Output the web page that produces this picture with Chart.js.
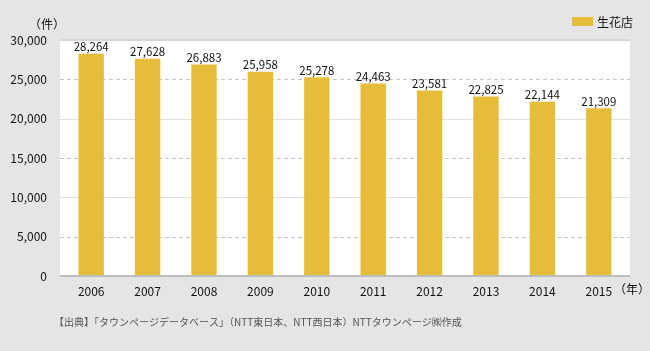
<!DOCTYPE html>
<html>
<head>
<meta charset="utf-8">
<script src="https://cdn.jsdelivr.net/npm/chart.js@4"></script>
<style>
  html, body { margin: 0; padding: 0; background: #e5e5e5; }
  #wrap { width: 650px; height: 351px; }
</style>
</head>
<body>
<div id="wrap"><canvas id="myChart" width="650" height="351"></canvas></div>
<script>
const years = ["2006", "2007", "2008", "2009", "2010", "2011", "2012", "2013", "2014", "2015"];
const shopCounts = [28264, 27628, 26883, 25958, 25278, 24463, 23581, 22825, 22144, 21309];
const seriesName = "生花店";
const yTicks = [0, 5000, 10000, 15000, 20000, 25000, 30000];
const dashedTicks = [5000, 15000, 25000];
const solidTicks = [10000, 20000];
const sourceNote = "【出典】「タウンページデータベース」（NTT東日本、NTT西日本）NTTタウンページ㈱作成";

const FONT = "'Noto Sans CJK JP', 'Open Sans', sans-serif";
const barColor = "#e6bd3b";
const EXT = 3; // white area reaches a little beyond the category band

const extras = {
  id: "extras",
  beforeDraw(chart) {
    const { ctx, chartArea } = chart;
    ctx.save();
    ctx.fillStyle = "#e5e5e5";
    ctx.fillRect(0, 0, chart.width, chart.height);
    ctx.fillStyle = "#ffffff";
    ctx.fillRect(chartArea.left - EXT, chartArea.top, chartArea.right - chartArea.left + 2 * EXT, chartArea.bottom - chartArea.top);
    ctx.restore();
  },
  beforeDatasetsDraw(chart) {
    const { ctx, chartArea, scales } = chart;
    const l = chartArea.left - EXT, r = chartArea.right + EXT;
    ctx.save();
    ctx.lineWidth = 1;
    solidTicks.forEach(v => {
      const y = Math.round(scales.y.getPixelForValue(v)) + 0.5;
      ctx.strokeStyle = "#e0e0e0";
      ctx.setLineDash([]);
      ctx.beginPath(); ctx.moveTo(l, y); ctx.lineTo(r, y); ctx.stroke();
    });
    dashedTicks.forEach(v => {
      const y = Math.round(scales.y.getPixelForValue(v)) + 0.5;
      ctx.strokeStyle = "#c4c4c4";
      ctx.setLineDash([4, 3]);
      ctx.beginPath(); ctx.moveTo(l, y); ctx.lineTo(r, y); ctx.stroke();
    });
    ctx.restore();
  },
  afterDatasetsDraw(chart) {
    const { ctx, chartArea } = chart;
    const meta = chart.getDatasetMeta(0);
    const l = chartArea.left - EXT, w = chartArea.right - chartArea.left + 2 * EXT;
    ctx.save();
    // axis lines
    ctx.fillStyle = "#d6d6d6";
    ctx.fillRect(l, chartArea.top - 1, w, 2);
    ctx.fillStyle = "#bdbdbd";
    ctx.fillRect(l, chartArea.bottom - 1, w, 2);
    // value labels
    ctx.fillStyle = "#111";
    ctx.font = "11.5px " + FONT;
    ctx.textAlign = "center";
    ctx.textBaseline = "bottom";
    meta.data.forEach((bar, i) => {
      ctx.fillText(shopCounts[i].toLocaleString("en-US"), bar.x, bar.y - 1);
    });
    // unit labels
    ctx.font = "12px " + FONT;
    ctx.textAlign = "left";
    ctx.textBaseline = "middle";
    ctx.fillText("（件）", 29, 24);
    ctx.fillText("（年）", 614, 289);
    // legend
    ctx.fillStyle = barColor;
    ctx.fillRect(572, 17, 21, 9);
    ctx.fillStyle = "#111";
    ctx.fillText(seriesName, 597, 22);
    // source
    ctx.fillStyle = "#555";
    ctx.font = "10px " + FONT;
    ctx.fillText(sourceNote, 54, 322);
    ctx.restore();
  }
};

const ctx = document.getElementById("myChart").getContext("2d");
const chart = new Chart(ctx, {
  type: "bar",
  data: {
    labels: years,
    datasets: [{
      label: seriesName,
      data: shopCounts,
      backgroundColor: barColor,
      borderWidth: 0,
      barPercentage: 0.45,
      categoryPercentage: 1.0
    }]
  },
  options: {
    responsive: false,
    animation: false,
    layout: { padding: { top: 40, right: 23, left: 0, bottom: 0 } },
    plugins: {
      legend: { display: false },
      tooltip: { enabled: false }
    },
    scales: {
      x: {
        grid: { display: false },
        border: { display: false },
        ticks: { color: "#111", font: { size: 12, family: FONT }, padding: 0, maxRotation: 0 },
        afterFit(scale) { scale.height = 75; }
      },
      y: {
        min: 0,
        max: 30000,
        afterBuildTicks(scale) { scale.ticks = yTicks.map(v => ({ value: v })); },
        afterFit(scale) { scale.width = 63; },
        border: { display: false },
        grid: { display: false },
        ticks: {
          color: "#111",
          font: { size: 12, family: FONT },
          padding: 8,
          callback: (v) => Number(v).toLocaleString("en-US")
        }
      }
    }
  },
  plugins: [extras]
});
</script>
</body>
</html>
